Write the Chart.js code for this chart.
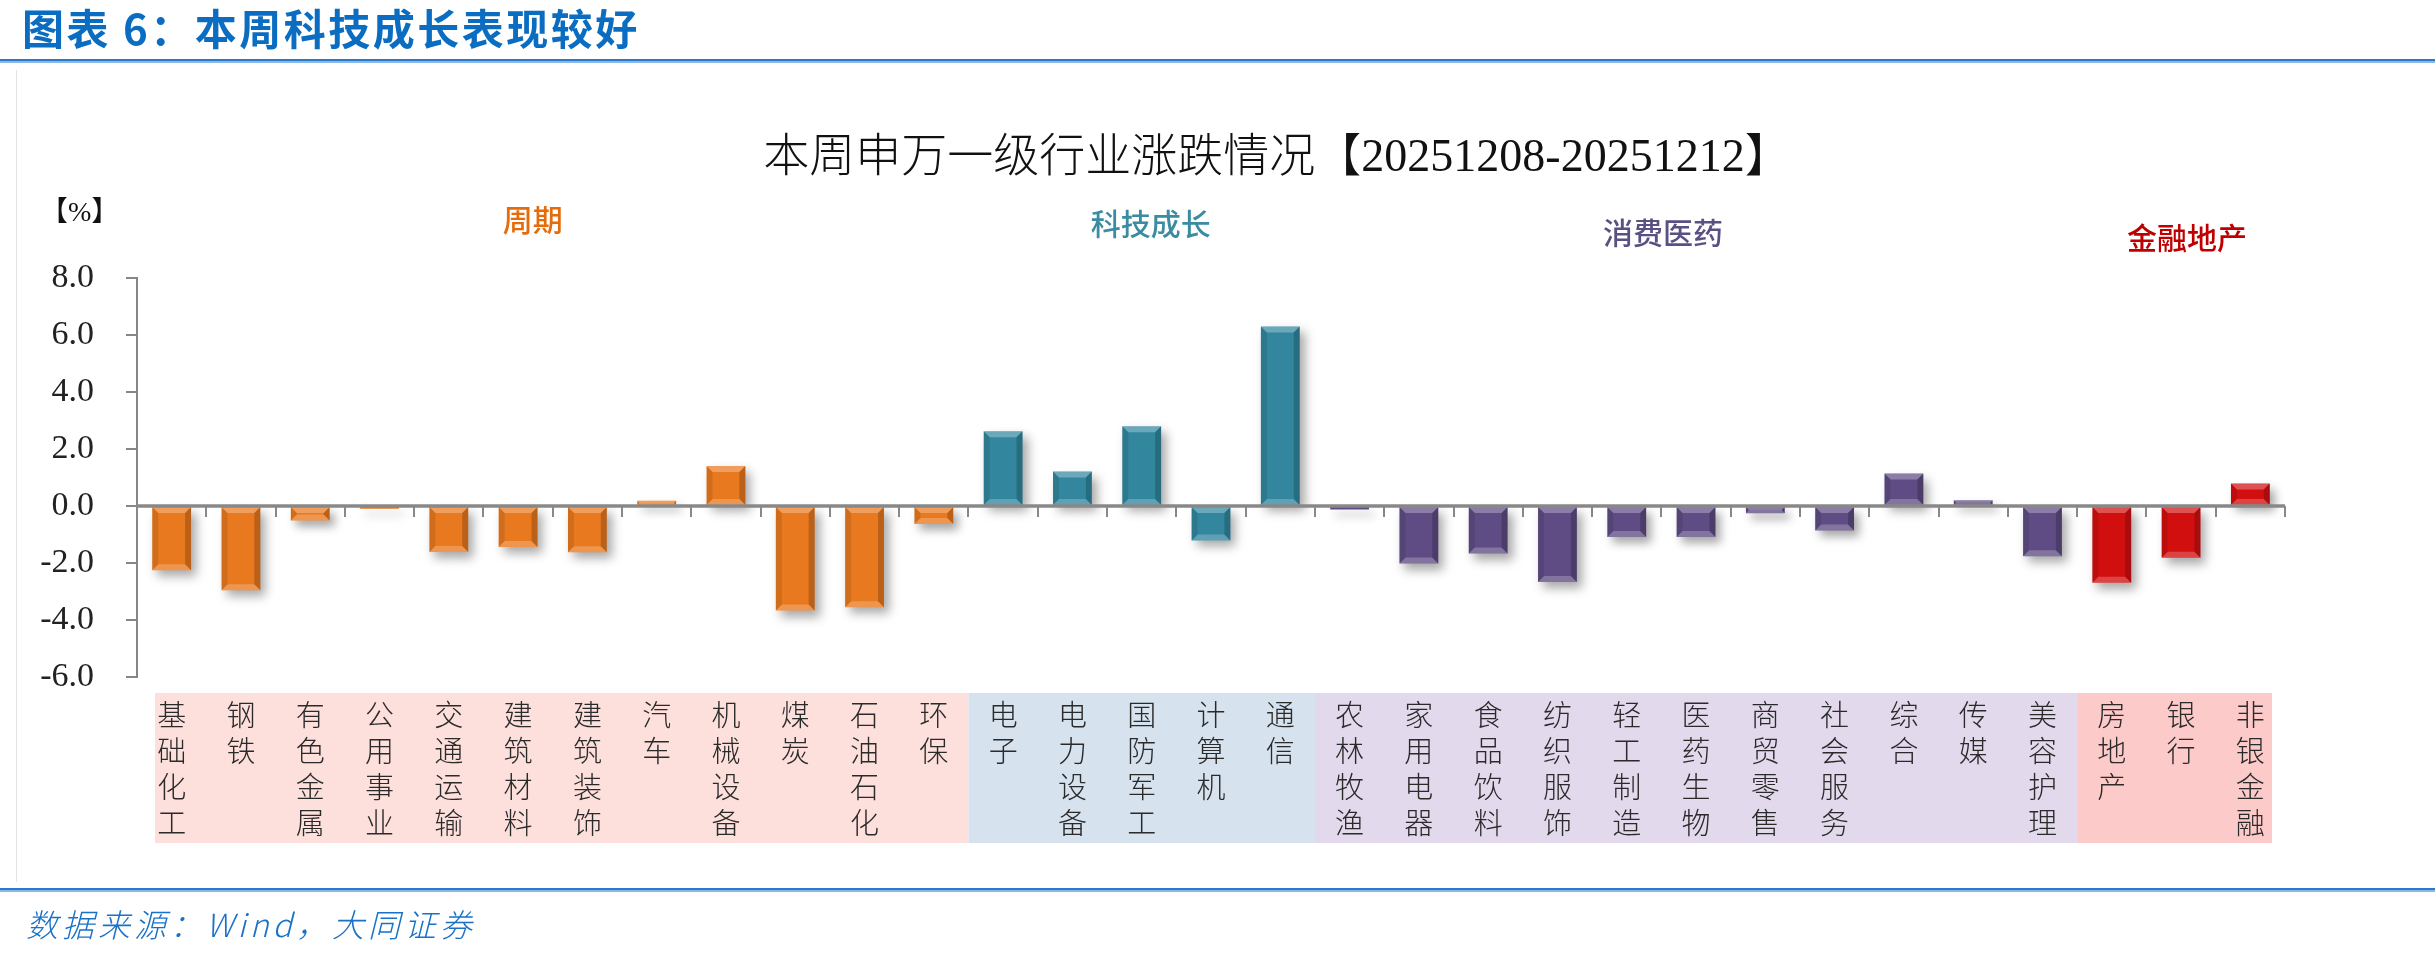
<!DOCTYPE html>
<html>
<head>
<meta charset="utf-8">
<script src="https://cdn.jsdelivr.net/npm/chart.js@4.4.1/dist/chart.umd.min.js"></script>
<style>
html, body { margin: 0; padding: 0; background: #fff; }
body { width: 2435px; height: 958px; position: relative; overflow: hidden; font-family: "Noto Sans CJK SC", sans-serif; }
#chart { position: absolute; left: 0; top: 0; }
.head { position: absolute; left: 22px; top: 6px; font-size: 42px; line-height: 42px; font-weight: 700; color: #0b6dc2; letter-spacing: 2.5px; }
.rule { position: absolute; left: 0; width: 2435px; height: 2px; background: #2a78c8; border-bottom: 2px solid #8ab8e6; }
.ctitle { position: absolute; left: 0; width: 2554px; top: 133px; text-align: center; font-size: 46px; line-height: 46px; font-weight: 300; color: #111; font-family: "Liberation Serif", "Noto Sans CJK SC", serif; }
.unit { position: absolute; left: 40px; top: 198px; font-size: 28px; line-height: 28px; color: #111; font-family: "Liberation Serif", "Noto Sans CJK SC", serif; }
.src { position: absolute; left: 26px; top: 906px; font-size: 32px; line-height: 34px; font-style: italic; color: #1a72c6; letter-spacing: 4px; font-weight: 300; }
.frame { position: absolute; left: 16px; top: 70px; width: 1px; height: 812px; background: #e4e4e4; }
</style>
</head>
<body>
<canvas id="chart" width="2435" height="958"></canvas>
<div class="frame"></div>
<div class="head">图表 6：本周科技成长表现较好</div>
<div class="rule" style="top:59px"></div>
<div class="ctitle">本周申万一级行业涨跌情况【20251208-20251212】</div>
<div class="unit">【%】</div>
<div class="rule" style="top:888px"></div>
<div class="src">数据来源：Wind，大同证券</div>
<script>
// 申万一级行业周涨跌幅（%）
const cycleNames = ['基础化工', '钢铁', '有色金属', '公用事业', '交通运输', '建筑材料', '建筑装饰', '汽车', '机械设备', '煤炭', '石油石化', '环保'];
const cycleChg = [-2.25, -2.96, -0.51, -0.10, -1.61, -1.44, -1.62, 0.18, 1.40, -3.67, -3.55, -0.63];

const techNames = ['电子', '电力设备', '国防军工', '计算机', '通信'];
const techChg = [2.62, 1.21, 2.80, -1.21, 6.30];

const consumerNames = ['农林牧渔', '家用电器', '食品饮料', '纺织服饰', '轻工制造', '医药生物', '商贸零售', '社会服务', '综合', '传媒', '美容护理'];
const consumerChg = [-0.12, -2.02, -1.67, -2.67, -1.09, -1.09, -0.25, -0.86, 1.14, 0.20, -1.76];

const financeNames = ['房地产', '银行', '非银金融'];
const financeChg = [-2.69, -1.82, 0.79];

const groupNames = ['周期', '科技成长', '消费医药', '金融地产'];
const groupSizes = [cycleNames.length, techNames.length, consumerNames.length, financeNames.length];

const yTicks = [8, 6, 4, 2, 0, -2, -4, -6];

// colours
const barColors = ['#e9791f', '#32879f', '#5f4c84', '#d20f0f'];
const groupTextColors = ['#e46c0a', '#3a8ca0', '#5a5082', '#c00000'];
const bandColors = ['#fde0dc', '#d6e3ef', '#e3d9ec', '#fdcaca'];

const names = [].concat(cycleNames, techNames, consumerNames, financeNames);
const values = [].concat(cycleChg, techChg, consumerChg, financeChg);
const groupOf = [];
groupSizes.forEach((n, g) => { for (let i = 0; i < n; i++) groupOf.push(g); });

function poly(ctx, pts, fill) {
    ctx.beginPath();
    ctx.moveTo(pts[0][0], pts[0][1]);
    for (let i = 1; i < pts.length; i++) ctx.lineTo(pts[i][0], pts[i][1]);
    ctx.closePath();
    ctx.fillStyle = fill;
    ctx.fill();
}

// coloured label bands behind the category names
const bands = {
    id: 'bands',
    beforeDraw(chart) {
        const ctx = chart.ctx, xs = chart.scales.x, area = chart.chartArea;
        const step = xs.getPixelForValue(1) - xs.getPixelForValue(0);
        let start = 0;
        ctx.save();
        groupSizes.forEach((n, g) => {
            let l = xs.getPixelForValue(start) - step / 2;
            let r = xs.getPixelForValue(start + n - 1) + step / 2;
            if (g === 0) l += 18;
            if (g === groupSizes.length - 1) r -= 13;
            ctx.fillStyle = bandColors[g];
            ctx.fillRect(l, area.bottom + 16, r - l, 150);
            start += n;
        });
        ctx.restore();
    }
};

// drop shadow + bevel on the bars
const bevel = {
    id: 'bevel',
    beforeDatasetsDraw(chart) {
        const ctx = chart.ctx;
        ctx.save();
        ctx.shadowColor = 'rgba(0,0,0,0.35)';
        ctx.shadowBlur = 10;
        ctx.shadowOffsetX = 5;
        ctx.shadowOffsetY = 6;
    },
    afterDatasetsDraw(chart) {
        const ctx = chart.ctx;
        ctx.restore();
        ctx.save();
        chart.getDatasetMeta(0).data.forEach((bar) => {
            const p = bar.getProps(['x', 'y', 'base', 'width'], true);
            const l = p.x - p.width / 2, r = p.x + p.width / 2;
            const top = Math.min(p.y, p.base), bot = Math.max(p.y, p.base);
            const h = bot - top;
            if (h < 3) return;
            const b = Math.min(6, h / 2);
            poly(ctx, [[l, top], [r, top], [r - b, top + b], [l + b, top + b]], 'rgba(255,255,255,0.28)');
            poly(ctx, [[l, bot], [r, bot], [r - b, bot - b], [l + b, bot - b]], 'rgba(255,255,255,0.22)');
            poly(ctx, [[l, top], [l + b, top + b], [l + b, bot - b], [l, bot]], 'rgba(0,0,0,0.10)');
            poly(ctx, [[r, top], [r - b, top + b], [r - b, bot - b], [r, bot]], 'rgba(0,0,0,0.20)');
        });
        // zero line with category separators
        const xs = chart.scales.x, ys = chart.scales.y;
        const y0 = ys.getPixelForValue(0);
        const step = xs.getPixelForValue(1) - xs.getPixelForValue(0);
        ctx.strokeStyle = '#888888';
        ctx.lineWidth = 3.5;
        ctx.beginPath();
        ctx.moveTo(chart.chartArea.left, y0);
        ctx.lineTo(chart.chartArea.right, y0);
        ctx.stroke();
        ctx.lineWidth = 2;
        for (let i = 0; i <= names.length; i++) {
            const x = Math.round(xs.getPixelForValue(i) - step / 2);
            ctx.beginPath();
            ctx.moveTo(x, y0);
            ctx.lineTo(x, y0 + 11);
            ctx.stroke();
        }
        ctx.restore();
    }
};

// group captions above the plot
const groupCaptions = {
    id: 'groupCaptions',
    afterDraw(chart, args, opts) {
        const ctx = chart.ctx, xs = chart.scales.x, area = chart.chartArea;
        let start = 0;
        ctx.save();
        ctx.font = '500 30px "Noto Sans CJK SC"';
        ctx.textAlign = 'center';
        ctx.textBaseline = 'middle';
        groupSizes.forEach((n, g) => {
            const cx = (xs.getPixelForValue(start) + xs.getPixelForValue(start + n - 1)) / 2;
            ctx.fillStyle = groupTextColors[g];
            ctx.fillText(groupNames[g], cx + opts.dx[g], area.top + opts.dy[g]);
            start += n;
        });
        ctx.restore();
    }
};

const ctx = document.getElementById('chart').getContext('2d');
new Chart(ctx, {
    type: 'bar',
    data: {
        labels: names.map((s) => s.split('')),
        datasets: [{
            data: values,
            backgroundColor: groupOf.map((g) => barColors[g]),
            borderWidth: 0,
            categoryPercentage: 1,
            barPercentage: 0.56
        }]
    },
    options: {
        responsive: false,
        animation: false,
        devicePixelRatio: 1,
        layout: { padding: { left: 0, right: 150, top: 278, bottom: 0 } },
        plugins: {
            legend: { display: false },
            tooltip: { enabled: false },
            groupCaptions: { dx: [-20, 9, -33, 6], dy: [-58, -54, -45, -40] }
        },
        scales: {
            x: {
                grid: { display: false, drawTicks: false },
                border: { display: false },
                ticks: {
                    autoSkip: false,
                    maxRotation: 0,
                    minRotation: 0,
                    padding: 20,
                    color: '#2a2a2a',
                    font: { family: '"Noto Sans CJK SC"', size: 29, weight: 300, lineHeight: 1.24 }
                },
                afterFit(scale) { scale.height = 281; }
            },
            y: {
                min: -6,
                max: 8,
                afterBuildTicks(scale) { scale.ticks = yTicks.map((v) => ({ value: v })); },
                grid: { drawOnChartArea: false, drawTicks: true, tickLength: 11, color: '#868686', lineWidth: 2 },
                border: { display: true, color: '#868686', width: 2 },
                ticks: {
                    padding: 32,
                    color: '#222',
                    font: { family: '"Liberation Serif"', size: 34 },
                    callback: (v) => Number(v).toFixed(1)
                },
                afterFit(scale) { scale.width = 137; }
            }
        }
    },
    plugins: [bands, bevel, groupCaptions]
});
</script>
</body>
</html>
